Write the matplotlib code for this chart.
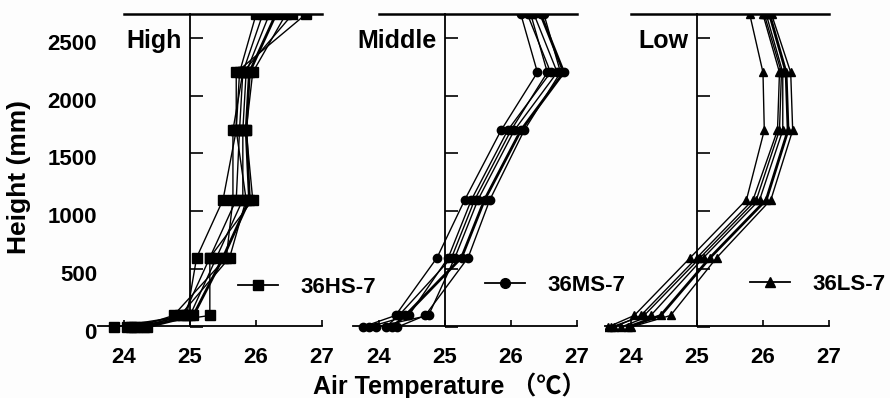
import matplotlib
matplotlib.use("Agg")
import matplotlib.pyplot as plt
from matplotlib.lines import Line2D
from matplotlib.transforms import ScaledTranslation

plt.rcParams['font.family'] = ['Liberation Sans', 'Noto Sans CJK JP', 'DejaVu Sans']
plt.rcParams['font.weight'] = 'bold'

# heights of the measuring points (mm)
heights = [0, 100, 600, 1100, 1700, 2200, 2700]

# air temperature profiles (deg C), one list per run
high_runs = [
    [23.85, 24.95, 25.10, 25.50, 25.70, 25.75, 26.00],
    [24.05, 24.90, 25.30, 25.70, 25.75, 25.80, 26.10],
    [24.15, 25.00, 25.40, 25.80, 25.80, 25.85, 26.20],
    [24.35, 25.05, 25.50, 25.90, 25.85, 25.90, 26.30],
    [24.10, 25.30, 25.30, 25.95, 25.85, 25.95, 26.45],
    [24.20, 24.75, 25.55, 25.65, 25.65, 25.80, 26.55],
    [24.30, 24.85, 25.60, 25.85, 25.70, 25.70, 26.75],
]
middle_runs = [
    [23.75, 24.25, 24.88, 25.30, 25.85, 26.40, 26.15],
    [23.85, 24.45, 25.05, 25.40, 25.95, 26.60, 26.25],
    [23.95, 24.75, 25.15, 25.50, 26.05, 26.70, 26.35],
    [24.20, 24.40, 25.25, 25.60, 26.15, 26.80, 26.45],
    [24.28, 24.70, 25.35, 25.68, 26.20, 26.75, 26.50],
    [24.10, 24.30, 25.10, 25.45, 26.00, 26.55, 26.30],
]
low_runs = [
    [23.65, 24.05, 24.90, 25.75, 26.02, 26.00, 25.80],
    [23.75, 24.15, 25.00, 25.85, 26.22, 26.25, 26.00],
    [23.85, 24.30, 25.10, 25.95, 26.30, 26.30, 26.05],
    [23.95, 24.45, 25.20, 26.05, 26.38, 26.35, 26.10],
    [24.00, 24.60, 25.30, 26.12, 26.45, 26.42, 26.13],
    [23.70, 24.20, 25.05, 25.90, 26.25, 26.28, 26.02],
]

panel_titles = ['High', 'Middle', 'Low']
series_names = ['36HS-7', '36MS-7', '36LS-7']
markers = ['s', 'o', '^']
x_ticks = [24, 25, 26, 27]
y_ticks = [0, 500, 1000, 1500, 2000, 2500]

fig = plt.figure(figsize=(8.9, 3.98), dpi=100)
fig.patch.set_facecolor('#fdfdfd')

lefts = [0.1097, 0.3962, 0.6793]
legend_pos = [(0.560, 0.159), (0.528, 0.165), (0.580, 0.168)]
all_runs = [high_runs, middle_runs, low_runs]
marker_sizes = [6.5, 6.0, 6.0]

for i, runs in enumerate(all_runs):
    ax = fig.add_axes([lefts[i], 0.1492, 0.2818, 0.8144])
    ax.set_facecolor('none')
    for j, temps in enumerate(runs):
        lw = 2.0 if j == 3 else 1.0
        ax.plot(temps, heights, color='black', lw=lw, marker=markers[i],
                ms=marker_sizes[i], mfc='black', mec='black')

    ax.set_xlim(23.6, 27.4)
    ax.set_ylim(-100, 2700)

    # axis lines: vertical at 25 degC, base line and top line
    ax.spines['right'].set_visible(False)
    ax.spines['left'].set_position(('data', 25))
    ax.spines['left'].set_bounds(10, 2700)
    ax.spines['bottom'].set_position(('data', 10))
    ax.spines['bottom'].set_bounds(23.6, 27)
    ax.spines['top'].set_bounds(24, 27)
    for s in ['left', 'bottom']:
        ax.spines[s].set_linewidth(1.3)
    ax.spines['top'].set_linewidth(1.8)

    ax.set_xticks(x_ticks)
    ax.tick_params(axis='x', direction='in', length=4, width=1.2,
                   labelsize=16, pad=15)
    ax.set_yticks(y_ticks)
    ax.tick_params(axis='y', direction='in', length=9, width=1.2,
                   labelsize=16, pad=67)
    if i > 0:
        ax.tick_params(axis='y', labelleft=False)
    else:
        shift = ScaledTranslation(0, -4 / 100, fig.dpi_scale_trans)
        for lab in ax.get_yticklabels():
            lab.set_transform(lab.get_transform() + shift)

    ax.text(24.87, 2410, panel_titles[i], ha='right', va='baseline',
            fontsize=18, fontweight='bold')

    handle = Line2D([], [], color='black', lw=1.3, marker=markers[i],
                    ms=7, mfc='black')
    ax.legend([handle], [series_names[i]], loc='center left',
              bbox_to_anchor=legend_pos[i], frameon=False, numpoints=1,
              handlelength=1.8, handletextpad=1.0, borderpad=0,
              borderaxespad=0, prop={'size': 16, 'weight': 'bold'})

fig.text(0.021, 1 - 177 / 398, 'Height (mm)', rotation=90, ha='center',
         va='center', fontsize=19, fontweight='bold')
fig.text(450 / 890, 1 - 386 / 398, 'Air Temperature （℃）', ha='center',
         va='center', fontsize=18, fontweight='bold')

fig.savefig('out.png', dpi=100, facecolor=fig.get_facecolor())
